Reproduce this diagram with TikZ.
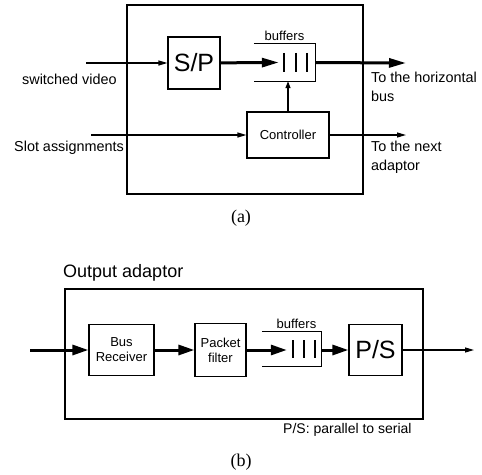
\documentclass[tikz,border=0pt]{standalone}
\usepackage{fontspec}
\setmainfont{Liberation Sans}
\newfontfamily\capfont{Liberation Serif}
\usetikzlibrary{arrows.meta,positioning}

\begin{document}
\begin{tikzpicture}[x=1pt,y=-1pt,
  box/.style={draw,line width=1.2pt,inner sep=0pt,align=center,font=\fontsize{13}{15}\selectfont},
  bigsign/.style={font=\fontsize{25}{28}\selectfont},
  bufbox/.style={inner sep=0pt},
  bigarr/.style={line width=3pt,-{Triangle[length=17pt,width=9pt]}},
  smallarr/.style={line width=1.2pt,-{Triangle[length=9pt,width=5pt]}},
  sidelbl/.style={inner sep=0pt,align=left,font=\fontsize{14.4}{19}\selectfont},
  smalllbl/.style={inner sep=0pt,font=\fontsize{13}{15}\selectfont},
  caption/.style={font=\capfont\fontsize{18}{20}\selectfont}]
\useasboundingbox (0,0) rectangle (482,474);

% (a) input adaptor
\node[box,minimum width=236pt,minimum height=189pt] (frameA) at (245,99.5) {};
\node[box,bigsign,minimum width=52pt,minimum height=52pt] (sp) at (194,63) {S/P};
\node[bufbox,minimum width=61pt,minimum height=37pt] (bufA) at (284.5,62.5) {};
\draw[line width=1.2pt] (bufA.north west) -- (bufA.north east) -- (bufA.south east) -- (bufA.south west);
\foreach \dx in {30,42,53}
\draw[line width=1.8pt] ([xshift=\dx pt]bufA.north west) ++(0,9) -- ++(0,19);
\node[smalllbl,above=3pt of bufA] (bufAlbl) {buffers};
\node[box,minimum width=82pt,minimum height=46pt] (ctrl) at (288,135) {Controller};
\coordinate (vidin) at (86,63);
\coordinate (slotin) at (91,135);
\coordinate (busout) at (406,63);
\coordinate (nextout) at (406,135);
\draw[smallarr] (vidin) -- (sp);
\draw[bigarr] (sp) -- ([xshift=25pt]bufA.west);
\draw[bigarr] (bufA.east) -- (busout);
\draw[smallarr] (slotin) -- (ctrl);
\draw[smallarr] (ctrl.east) -- (nextout);
\draw[line width=1.2pt,-{Triangle[length=7pt,width=5pt]}] (ctrl.north) -- (ctrl.north |- bufA.south);
\node[sidelbl,anchor=base west] (vidlbl) at (22,84) {switched video};
\node[sidelbl,anchor=base west] (slotlbl) at (14,151) {Slot assignments};
\node[sidelbl,anchor=north west] (buslbl) at (371,72) {To the horizontal\\bus};
\node[sidelbl,anchor=north west] (nextlbl) at (371,141) {To the next\\adaptor};
\node[caption] (capA) at (241,218) {(a)};

% (b) output adaptor
\node[inner sep=0pt,anchor=base west,font=\fontsize{18}{20}\selectfont] (outlbl) at (63,277) {Output adaptor};
\node[box,minimum width=358pt,minimum height=130pt] (frameB) at (244,354) {};
\node[box,minimum width=65pt,minimum height=51pt] (br) at (121.5,350) {Bus\\Receiver};
\node[box,minimum width=51pt,minimum height=53pt] (pf) at (220.5,350) {Packet\\filter};
\node[bufbox,minimum width=59pt,minimum height=35pt] (bufB) at (291.5,349) {};
\draw[line width=1.2pt] (bufB.north west) -- (bufB.north east) -- (bufB.south east) -- (bufB.south west);
\foreach \dx in {31,42,53}
\draw[line width=1.8pt] ([xshift=\dx pt]bufB.north west) ++(0,9) -- ++(0,18);
\node[smalllbl,above=2pt of bufB,xshift=5pt] (bufBlbl) {buffers};
\node[box,bigsign,minimum width=53pt,minimum height=51pt] (ps) at (375.5,350) {P/S};
\coordinate (busin) at (30,350);
\coordinate (serout) at (474,350);
\draw[bigarr,-{Triangle[length=16pt,width=10pt]}] (busin) -- (br);
\draw[bigarr,-{Triangle[length=16pt,width=10pt]}] (br) -- (pf);
\draw[bigarr,-{Triangle[length=16pt,width=10pt]}] (pf) -- ([xshift=25pt]bufB.west |- pf.east);
\draw[bigarr,-{Triangle[length=16pt,width=10pt]}] (bufB.east |- ps.west) -- (ps);
\draw[smallarr] (ps) -- (serout);
\node[smalllbl,anchor=base west,font=\fontsize{14}{16}\selectfont] (pslbl) at (283,433) {P/S: parallel to serial};
\node[caption] (capB) at (241,462) {(b)};
\end{tikzpicture}
\end{document}
